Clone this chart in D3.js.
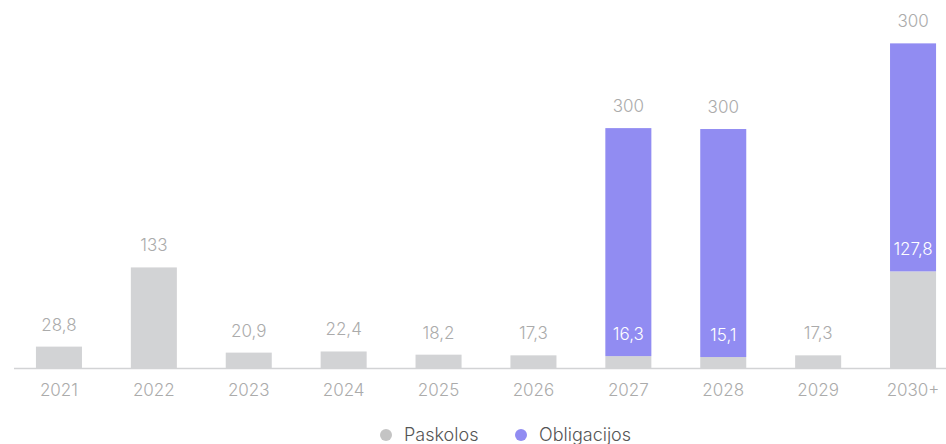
<!DOCTYPE html>
<html>
<head>
<meta charset="utf-8">
<script src="https://cdn.jsdelivr.net/npm/d3@7"></script>
<style>
  body { margin: 0; background: #fff; }
  svg text { font-family: Inter, "Open Sans", sans-serif; font-weight: 300; }
</style>
</head>
<body>
<div id="main"></div>
<script>
(function() {
  const years = ["2021", "2022", "2023", "2024", "2025", "2026", "2027", "2028", "2029", "2030+"];
  const paskolos = [28.8, 133, 20.9, 22.4, 18.2, 17.3, 16.3, 15.1, 17.3, 127.8];
  const obligacijos = [0, 0, 0, 0, 0, 0, 300, 300, 0, 300];
  const seriesNames = ["Paskolos", "Obligacijos"];
  const colors = ["#d2d3d5", "#918cf2"];

  const width = 946, height = 444;
  const fmt = v => String(v).replace(".", ",");

  const svg = d3.select("#main")
    .append("svg")
    .attr("width", width)
    .attr("height", height);

  const x = d3.scaleBand()
    .domain(years)
    .range([11.5, 960.5])
    .paddingInner(0.515)
    .paddingOuter(0.2575);

  const y = d3.scaleLinear()
    .domain([0, 450])
    .range([368.5, 26.5]);

  const rows = years.map((yr, i) => ({ year: yr, Paskolos: paskolos[i], Obligacijos: obligacijos[i] }));
  const stacked = d3.stack().keys(seriesNames)(rows);

  stacked.forEach((layer, li) => {
    svg.append("g")
      .selectAll("rect")
      .data(layer.filter(d => d[1] > d[0]))
      .join("rect")
      .attr("x", d => x(d.data.year))
      .attr("width", x.bandwidth())
      .attr("y", d => y(d[1]))
      .attr("height", d => y(d[0]) - y(d[1]))
      .attr("fill", colors[li]);
  });

  // axis line
  svg.append("line")
    .attr("x1", 14).attr("x2", width)
    .attr("y1", y(0)).attr("y2", y(0))
    .attr("stroke", "#d2d3d5")
    .attr("stroke-width", 1.5);

  // value labels for loans
  svg.append("g")
    .selectAll("text")
    .data(rows)
    .join("text")
    .attr("x", d => x(d.year) + x.bandwidth() / 2)
    .attr("y", d => y(d.Paskolos) - 16)
    .attr("text-anchor", "middle")
    .attr("font-size", "17px")
    .attr("fill", d => d.Obligacijos > 0 ? "#ffffff" : "#ababab")
    .text(d => fmt(d.Paskolos));

  // value labels for bonds
  svg.append("g")
    .selectAll("text")
    .data(rows.filter(d => d.Obligacijos > 0))
    .join("text")
    .attr("x", d => x(d.year) + x.bandwidth() / 2)
    .attr("y", d => y(d.Paskolos + d.Obligacijos) - 16)
    .attr("text-anchor", "middle")
    .attr("font-size", "17px")
    .attr("fill", "#ababab")
    .text(d => fmt(d.Obligacijos));

  // category labels
  svg.append("g")
    .selectAll("text")
    .data(years)
    .join("text")
    .attr("x", d => x(d) + x.bandwidth() / 2)
    .attr("y", 396)
    .attr("text-anchor", "middle")
    .attr("font-size", "17px")
    .attr("fill", "#ababab")
    .text(d => d);

  // legend
  const legendX = [386, 521];
  const legend = svg.append("g")
    .selectAll("g")
    .data(seriesNames)
    .join("g")
    .attr("transform", (d, i) => `translate(${legendX[i]},435)`);
  legend.append("circle")
    .attr("r", 6)
    .attr("fill", (d, i) => i === 0 ? "#c4c4c4" : colors[i]);
  legend.append("text")
    .attr("x", 18)
    .attr("dy", "0.35em")
    .attr("font-size", "18px")
    .attr("fill", "#555")
    .text(d => d);
})();
</script>
</body>
</html>
